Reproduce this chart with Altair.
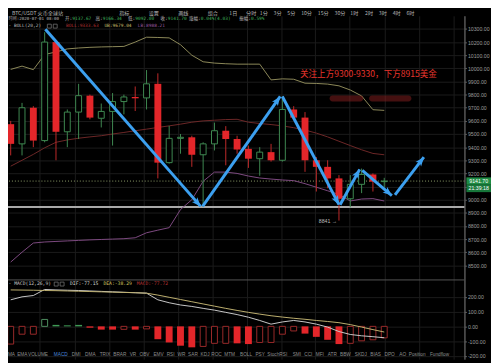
import math
import altair as alt
import pandas as pd

# ---------------- values ----------------
candle_idx = list(range(34))
opens = [9575, 9425, 9700, 9450, 10200, 9517, 9667, 9792, 9620, 9672, 9747, 9782, 9775, 9882, 9282, 9467, 9475,
         9342, 9425, 9525, 9462, 9387, 9312, 9362, 9300, 9687, 9625, 9300, 9250, 9162, 9007, 9117, 9192, 9137.67]
closes = [9425, 9700, 9450, 10200, 9517, 9667, 9792, 9625, 9672, 9747, 9782, 9772, 9882, 9282, 9467, 9475, 9342,
          9425, 9525, 9462, 9382, 9312, 9362, 9300, 9687, 9625, 9300, 9250, 9162, 9007, 9117, 9192, 9137, 9141.70]
highs = [9600, 9737, 9712, 10275, 10212, 9687, 9882, 9800, 9732, 9812, 9800, 9862, 9987, 9962, 9562, 9500, 9487,
         9437, 9587, 9560, 9487, 9412, 9400, 9425, 9787, 9712, 9667, 9325, 9300, 9187, 9187, 9237, 9200, 9166.34]
lows = [9337, 9337, 9400, 9437, 9300, 9400, 9462, 9612, 9550, 9412, 9650, 9675, 9687, 9162, 9275, 9350, 9250,
        8945, 9375, 9262, 9350, 9242, 9182, 9290, 9290, 9612, 9212, 9062, 9087, 8841, 8942, 9050, 9062, 9092.00]

boll_upper = [9992, 10017, 9990, 10105, 10125, 10148, 10155, 10160, 10163, 10165, 10167, 10200, 10237, 10235, 10232,
              10180, 10100, 10050, 10040, 10035, 10032, 10032, 10032, 9912, 9920, 9917, 9887, 9885, 9880, 9867,
              9835, 9790, 9685, 9680]
boll_mid = [9255, 9300, 9345, 9395, 9437, 9455, 9468, 9478, 9487, 9500, 9512, 9525, 9537, 9550, 9562, 9575, 9590,
            9600, 9605, 9610, 9612, 9590, 9580, 9572, 9562, 9548, 9530, 9507, 9478, 9445, 9412, 9380, 9352, 9342]
boll_lower = [8525, 8600, 8670, 8678, 8682, 8686, 8690, 8694, 8697, 8700, 8703, 8710, 8748, 8768, 8787, 8925, 9000,
              9140, 9210, 9210, 9200, 9180, 9165, 9157, 9150, 9145, 9122, 9095, 9068, 9040, 8990, 9005, 9008, 8990]

dif = [180, 200, 209, 250, 247, 245, 243, 240, 237, 234, 231, 228, 225, 180, 160, 145, 135, 122, 110, 95, 80, 62,
       40, 15, 30, 40, 30, 15, -5, -35, -55, -64, -70, -77.15]
dea = [247, 246, 245, 243, 242, 240, 238, 236, 234, 232, 230, 228, 225, 212, 197, 182, 167, 152, 137, 122, 108, 95,
       83, 72, 63, 55, 48, 40, 33, 25, 12, -5, -22, -38.29]
macd_hist = [-120, -53, -53, 47, 10, 7, 10, -9, -22, -22, -20, -22, -17, -87, -109, -131, -142, -136, -115, -115,
             -115, -120, -109, -109, -53, -31, -49, -71, -91, -120, -115, -98, -91, -77.72]
macd_filled = [0, 0, 0, 0, 1, 1, 1, 1, 1, 1, 0, 1, 0, 1, 1, 1, 1, 0, 0, 0, 1, 1, 0, 0, 0, 0, 1, 1, 1, 1, 0, 0, 0, 0]

support_price = 8945
last_price = 9141.70
last_time = "21:39:18"
low_idx = 29
low_price = 8841
price_ticks = list(range(8500, 10301, 100))
hidden_tick = 9100  # covered by the last-price box
macd_ticks = [-200, -100, 0, 100, 200]
grid_idx = [2.58, 5.64, 8.70, 11.72, 14.78, 17.80, 20.86, 23.92, 26.90, 29.96, 33.02, 36.08, 39.14]

arrow_start_i = [3.06, 16.95, 24.0, 29.1, 31.06, 33.95]
arrow_start_p = [10297, 8949, 9786, 8962, 9224, 9037]
arrow_end_i = [16.78, 23.81, 29.0, 30.83, 33.67, 36.5]
arrow_end_p = [8949, 9786, 8962, 9231, 9031, 9324]

note_text = "关注上方9300-9330，下方8915美金"
note_i, note_p = 31.6, 9958
blur_i1 = [28.17, 31.66]
blur_i2 = [31.15, 35.40]
blur_p1 = [9793, 9793]
blur_p2 = [9748, 9748]

toolbar_labels = ["BTC/USDT  火币全球站", "指标", "设置", "画线", "组合", "1日", "分时", "1分", "3分", "5分", "10分",
                  "15分", "30分", "1时", "2时", "3时", "4时", "6时"]
toolbar_x = [12, 121, 151, 181, 211, 233, 250, 264, 278, 292, 306, 323, 340, 356, 371, 385, 399, 413]
info_labels = ["时间:", "开:", "高:", "低:", "收:", "涨幅:", "振幅:"]
info_values = ["2020-07-01 08:00", "9137.67", "9166.34", "9092.00", "9141.70", "0.04%(4.03)", "0.59%"]
info_x = [8.5, 66, 97, 130, 163, 192, 243]
boll_texts = ["- BOLL(20,2)", "BOLL:9333.63", "UB:9679.04", "LB:8988.21"]
boll_text_x = [8.5, 67, 106, 140]
macd_texts = ["- MACD(12,26,9)", "DIF:-77.15", "DEA:-38.29", "MACD:-77.72"]
macd_text_x = [8.5, 71, 105, 139]
bottom_labels = ["MA", "EMA", "VOLUME", "MACD", "DMI", "DMA", "TRIX", "BRAR", "VR", "OBV", "EMV", "RSI", "WR",
                 "SAR", "KDJ", "ROC", "MTM", "BOLL", "PSY", "StochRSI", "SMI", "CCI", "MFI", "ATR", "BBW", "SKDJ",
                 "BIAS", "DPO", "AO", "Position", "Fundflow"]
bottom_x = [11.5, 22.5, 38.5, 61.7, 77.3, 91.7, 106.7, 121.7, 135, 146.7, 161, 173.3, 184.3, 196, 208.3, 220, 233.3,
            250, 264.3, 281.7, 301.7, 313.3, 325, 337.7, 351, 366.7, 381.7, 396, 409.3, 424, 446.7]

# ---------------- layout / style ----------------
W, H = 464, 349
X_DOM = [0.196, 39.65]
P_DOM = [7786, 10400]
M_DOM = [-222, 2104.7]
BG = "#000000"
UP = "#3f8a52"
RED = "#e3262a"
BLUE = "#3ca0f0"
GRID = "#1c1c1c"
MONO = "DejaVu Sans Mono, Noto Sans CJK SC"
CJK = "Noto Sans CJK SC"
SANS = "Liberation Sans"
HEAD = "M0,0L0.6,1.5L0,1.15L-0.6,1.5Z"
BOX = "M-1,-0.3L1,-0.3L1,0.3L-1,0.3Z"
OX, OY = 8, 13  # page position of the plot origin

fmt = "replace(format(datum.value, '.2f'), '\u2212', '-')"
p_label = f"datum.value == {hidden_tick} ? '' : {fmt}"
xs = alt.Scale(domain=X_DOM, nice=False, zero=False)
ps = alt.Scale(domain=P_DOM, nice=False, zero=False)
ms = alt.Scale(domain=M_DOM, nice=False, zero=False)
x_axis = alt.Axis(values=grid_idx, labels=False, ticks=False, domain=False, grid=True, gridColor=GRID, title=None)
axis_style = dict(orient="right", grid=True, gridColor=GRID, labelColor="#9c9c9c",
                  labelFontSize=5.3, labelFont=SANS, tickSize=2, tickColor="#666666", domainColor="#5a5a5a",
                  labelPadding=1, title=None, labelOverlap=False)
p_axis = alt.Axis(values=price_ticks, labelExpr=p_label, **axis_style)
m_axis = alt.Axis(values=macd_ticks, labelExpr=fmt, **axis_style)


def X(f):
    return alt.X(f, type="quantitative", scale=xs, axis=x_axis)


def PY(f):
    return alt.Y(f, type="quantitative", scale=ps, axis=p_axis)


def MY(f):
    return alt.Y(f, type="quantitative", scale=ms, axis=m_axis)


ONE = pd.DataFrame({"k": [0]})


def ptext(txt, px, py, color, size, font, align="left"):
    return alt.Chart(ONE).mark_text(text=txt, align=align, baseline="middle", color=color, fontSize=size,
                                    font=font).encode(x=alt.value(px - OX), y=alt.value(py - OY))


def twidth(s, f):
    return sum(f if ord(c) > 0x2E80 else 0.602 * f for c in s)


candles = pd.DataFrame({"i": candle_idx, "open": opens, "close": closes, "high": highs, "low": lows})
candles["dir"] = ["up" if c >= o else "down" for o, c in zip(opens, closes)]
boll = pd.DataFrame({"i": candle_idx, "ub": boll_upper, "mid": boll_mid, "lb": boll_lower})

ppx = W / (X_DOM[1] - X_DOM[0])
ppp = H / (P_DOM[1] - P_DOM[0])
arrows = pd.DataFrame({"si": arrow_start_i, "sp": arrow_start_p, "ei": arrow_end_i, "ep": arrow_end_p})
arrows["ang"] = [math.degrees(math.atan2((e - s) * ppx, (q - p) * ppp)) % 360
                 for s, p, e, q in zip(arrow_start_i, arrow_start_p, arrow_end_i, arrow_end_p)]

price_layers = [
    alt.Chart(pd.DataFrame({"p": [support_price]})).mark_rule(color="#a9a9a9", strokeWidth=2).encode(y=PY("p")),
    alt.Chart(pd.DataFrame({"p": [last_price]})).mark_rule(color="#8f9f6a", strokeWidth=1, strokeDash=[1, 2])
    .encode(y=PY("p")),
    alt.Chart(boll).mark_line(color="#8e8a5a", strokeWidth=1).encode(x=X("i"), y=PY("ub")),
    alt.Chart(boll).mark_line(color="#6e2828", strokeWidth=1).encode(x=X("i"), y=PY("mid")),
    alt.Chart(boll).mark_line(color="#7e4a82", strokeWidth=1).encode(x=X("i"), y=PY("lb")),
    alt.Chart(candles).transform_filter("datum.dir == 'up'").mark_rule(color=UP, strokeWidth=1)
    .encode(x=X("i"), y=PY("low"), y2="high"),
    alt.Chart(candles).transform_filter("datum.dir == 'down'").mark_rule(color="#c02a2a", strokeWidth=1)
    .encode(x=X("i"), y=PY("low"), y2="high"),
    alt.Chart(candles).transform_filter("datum.dir == 'up'")
    .mark_bar(size=6, fill=BG, stroke=UP, strokeWidth=1).encode(x=X("i"), y=PY("open"), y2="close"),
    alt.Chart(candles).transform_filter("datum.dir == 'down'")
    .mark_bar(size=7, color=RED).encode(x=X("i"), y=PY("open"), y2="close"),
    alt.Chart(arrows).mark_rule(color=BLUE, strokeWidth=3, strokeCap="butt")
    .encode(x=X("si"), y=PY("sp"), x2="ei", y2="ep"),
    alt.Chart(arrows).mark_point(shape=HEAD, size=150, filled=True, color=BLUE, opacity=1, strokeWidth=0)
    .encode(x=X("ei"), y=PY("ep"), angle=alt.Angle("ang:Q", scale=None)),
    alt.Chart(pd.DataFrame({"i": [note_i], "p": [note_p], "t": [note_text]}))
    .mark_text(color="#e8352d", fontSize=8.7, font=CJK, align="center", baseline="middle")
    .encode(x=X("i"), y=PY("p"), text="t"),
    alt.Chart(pd.DataFrame({"i1": blur_i1, "i2": blur_i2, "p1": blur_p1, "p2": blur_p2}))
    .mark_rect(color="#8a2020", opacity=0.5, cornerRadius=3)
    .encode(x=X("i1"), x2="i2", y=PY("p1"), y2="p2"),
    alt.Chart(pd.DataFrame({"i": [low_idx], "p": [low_price], "t": [f"{low_price} →"]}))
    .mark_text(color="#bdbdbd", fontSize=5.3, font=SANS, align="right", baseline="middle", dx=-2)
    .encode(x=X("i"), y=PY("p"), text="t"),
    alt.Chart(pd.DataFrame({"p": [last_price]}))
    .mark_point(shape=BOX, size=625, filled=True, color="#1f8c44", opacity=1, strokeWidth=0)
    .encode(x=alt.value(478.5), y=PY("p")),
    alt.Chart(pd.DataFrame({"p": [last_price]}))
    .mark_point(shape=BOX, size=625, filled=True, color="#17773a", opacity=1, strokeWidth=0, yOffset=7.5)
    .encode(x=alt.value(478.5), y=PY("p")),
    alt.Chart(pd.DataFrame({"p": [last_price], "t": [f"{last_price:.2f}"]}))
    .mark_text(color="#ffffff", fontSize=5.3, font=SANS, align="center", baseline="middle")
    .encode(x=alt.value(478.5), y=PY("p"), text="t"),
    alt.Chart(pd.DataFrame({"p": [last_price], "t": [last_time]}))
    .mark_text(color="#ffffff", fontSize=5.3, font=SANS, align="center", baseline="middle", dy=7.5)
    .encode(x=alt.value(478.5), y=PY("p"), text="t"),
]

# header rows
for t, px in zip(toolbar_labels, toolbar_x):
    price_layers.append(ptext(t, px, 10.6, "#b5b5b5", 5.2, CJK))
for lab, val, px in zip(info_labels, info_values, info_x):
    fs = 4.2 if lab == "时间:" else 4.6
    price_layers.append(ptext(lab, px, 16.2, "#bdbdbd", fs, MONO))
    vcol = "#bdbdbd" if lab == "时间:" else "#3fb05a"
    price_layers.append(ptext(val, px + twidth(lab, fs), 16.2, vcol, fs, MONO))
for t, px, col in zip(boll_texts, boll_text_x, ["#bdbdbd", "#b03030", "#c8bc6a", "#9a5aa0"]):
    price_layers.append(ptext(t, px, 23.5, col, 4.6, MONO))

icon_layers = []
for px, py in [(50, 23.5), (56, 23.5), (57, 285.7), (63, 285.7)]:
    icon_layers.append(alt.Chart(ONE).mark_point(shape="square", size=16, filled=False, color="#a0a0a0",
                                                 strokeWidth=0.8)
                       .encode(x=alt.value(px - OX), y=alt.value(py - OY)))
price_layers += icon_layers[:2]

hist = pd.DataFrame({"i": candle_idx, "h": macd_hist, "f": macd_filled})
hist["z"] = 0
lines = pd.DataFrame({"i": candle_idx, "dif": dif, "dea": dea})

macd_layers = [
    alt.Chart(ONE).mark_rule(color="#555555", strokeWidth=1)
    .encode(x=alt.value(0), x2=alt.value(W), y=alt.value(281.5 - OY)),
    alt.Chart(hist).transform_filter("datum.h < 0 && datum.f == 1").mark_bar(size=7, color=RED)
    .encode(x=X("i"), y=MY("h"), y2="z"),
    alt.Chart(hist).transform_filter("datum.h < 0 && datum.f == 0")
    .mark_bar(size=6, fill=BG, stroke="#9a2a2a", strokeWidth=1).encode(x=X("i"), y=MY("h"), y2="z"),
    alt.Chart(hist).transform_filter("datum.h >= 0 && datum.f == 1").mark_bar(size=7, color="#3f9a55")
    .encode(x=X("i"), y=MY("h"), y2="z"),
    alt.Chart(hist).transform_filter("datum.h >= 0 && datum.f == 0")
    .mark_bar(size=6, fill=BG, stroke="#4f8f60", strokeWidth=1).encode(x=X("i"), y=MY("h"), y2="z"),
    alt.Chart(lines).mark_line(color="#c9c9c9", strokeWidth=1).encode(x=X("i"), y=MY("dif")),
    alt.Chart(lines).mark_line(color="#bfb070", strokeWidth=1).encode(x=X("i"), y=MY("dea")),
]
for t, px, col in zip(macd_texts, macd_text_x, ["#c4c4c4", "#d4d4d4", "#d6c862", "#b83434"]):
    macd_layers.append(ptext(t, px, 285.7, col, 4.8, MONO))
macd_layers += icon_layers[2:]
for t, px in zip(bottom_labels, bottom_x):
    macd_layers.append(ptext(t, px, 357.5, "#4a86d8" if t == "MACD" else "#8e8e8e", 4.8, SANS, align="center"))

chart = (
    alt.layer(alt.layer(*price_layers), alt.layer(*macd_layers))
    .resolve_scale(y="independent")
    .properties(width=W, height=H, padding={"left": 0, "top": 5, "right": 27, "bottom": 1},
                autosize=alt.AutoSizeParams(type="none"), background=BG)
    .configure_view(stroke=None)
)

chart.save("out.html", embed_options={"renderer": "svg", "actions": False})
